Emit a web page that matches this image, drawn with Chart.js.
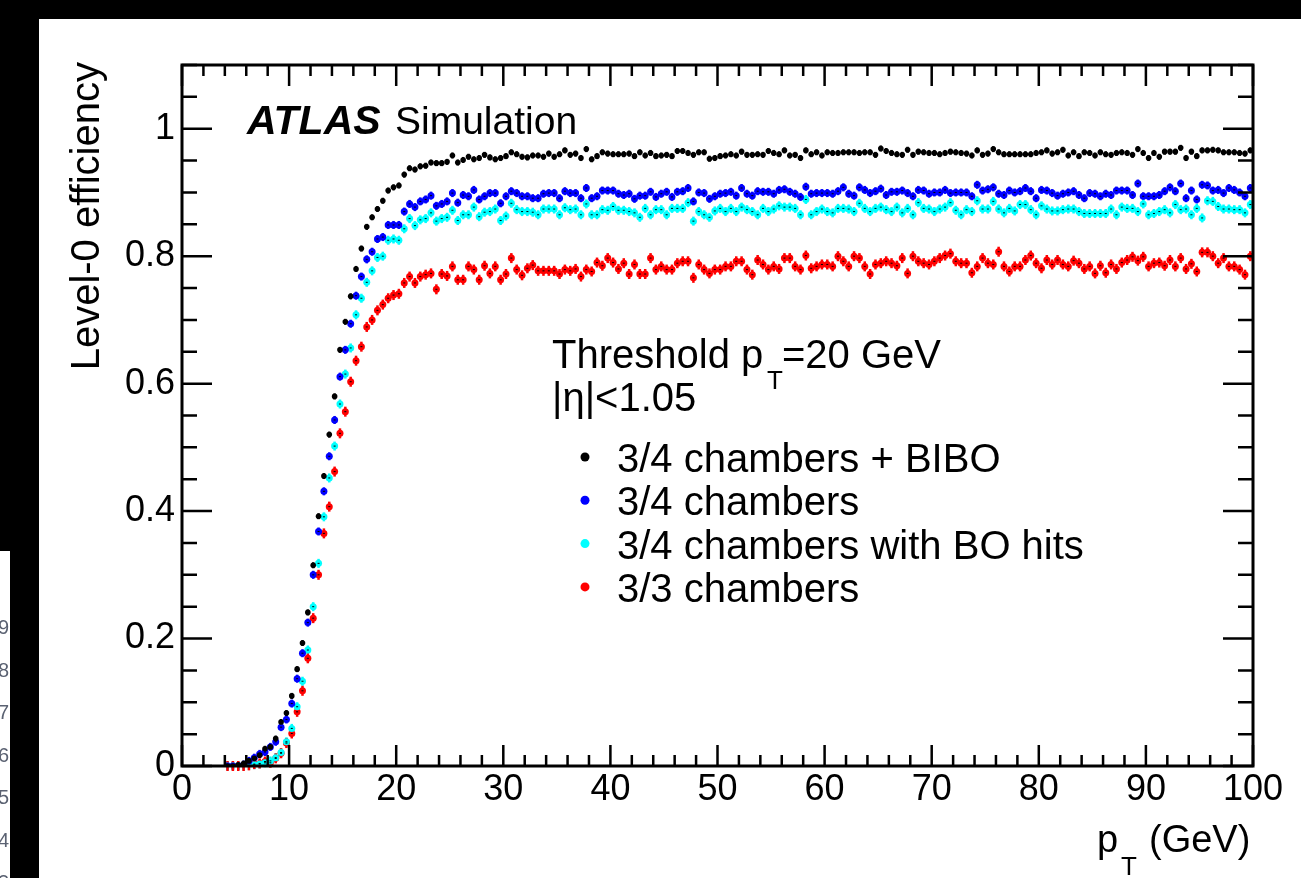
<!DOCTYPE html>
<html>
<head>
<meta charset="utf-8">
<title>Level-0 efficiency</title>
<script src="https://cdn.jsdelivr.net/npm/chart.js@4.4.1/dist/chart.umd.min.js"></script>
<style>
  html, body { margin: 0; padding: 0; background: #fff; overflow: hidden; }
  #wrap { position: relative; width: 1301px; height: 878px; }
  #chart { position: absolute; left: 0; top: 0; }
  .band { position: absolute; background: #000; }
  #digits { position: absolute; left: 0; top: 551px; width: 10px; height: 327px; overflow: hidden; }
  #digits span { position: absolute; right: 1px; font: 20px "Liberation Sans", Arial, sans-serif; color: #5b6272; line-height: 20px; }
</style>
</head>
<body>
<div id="wrap">
  <canvas id="chart" width="1301" height="878"></canvas>
  <div class="band" style="left:0;top:0;width:1301px;height:19px;"></div>
  <div class="band" style="left:0;top:0;width:39px;height:551px;"></div>
  <div class="band" style="left:10px;top:551px;width:29px;height:327px;"></div>
  <div id="digits"></div>
</div>
<script>
// bin centres in GeV (0.5 GeV bins)
const ptBins = [
  4.25, 4.75, 5.25, 5.75, 6.25, 6.75, 7.25, 7.75, 8.25, 8.75, 9.25, 9.75, 10.25, 10.75, 11.25, 11.75,
  12.25, 12.75, 13.25, 13.75, 14.25, 14.75, 15.25, 15.75, 16.25, 16.75, 17.25, 17.75, 18.25, 18.75, 19.25, 19.75,
  20.25, 20.75, 21.25, 21.75, 22.25, 22.75, 23.25, 23.75, 24.25, 24.75, 25.25, 25.75, 26.25, 26.75, 27.25, 27.75,
  28.25, 28.75, 29.25, 29.75, 30.25, 30.75, 31.25, 31.75, 32.25, 32.75, 33.25, 33.75, 34.25, 34.75, 35.25, 35.75,
  36.25, 36.75, 37.25, 37.75, 38.25, 38.75, 39.25, 39.75, 40.25, 40.75, 41.25, 41.75, 42.25, 42.75, 43.25, 43.75,
  44.25, 44.75, 45.25, 45.75, 46.25, 46.75, 47.25, 47.75, 48.25, 48.75, 49.25, 49.75, 50.25, 50.75, 51.25, 51.75,
  52.25, 52.75, 53.25, 53.75, 54.25, 54.75, 55.25, 55.75, 56.25, 56.75, 57.25, 57.75, 58.25, 58.75, 59.25, 59.75,
  60.25, 60.75, 61.25, 61.75, 62.25, 62.75, 63.25, 63.75, 64.25, 64.75, 65.25, 65.75, 66.25, 66.75, 67.25, 67.75,
  68.25, 68.75, 69.25, 69.75, 70.25, 70.75, 71.25, 71.75, 72.25, 72.75, 73.25, 73.75, 74.25, 74.75, 75.25, 75.75,
  76.25, 76.75, 77.25, 77.75, 78.25, 78.75, 79.25, 79.75, 80.25, 80.75, 81.25, 81.75, 82.25, 82.75, 83.25, 83.75,
  84.25, 84.75, 85.25, 85.75, 86.25, 86.75, 87.25, 87.75, 88.25, 88.75, 89.25, 89.75, 90.25, 90.75, 91.25, 91.75,
  92.25, 92.75, 93.25, 93.75, 94.25, 94.75, 95.25, 95.75, 96.25, 96.75, 97.25, 97.75, 98.25, 98.75, 99.25, 99.75
];

// 3/4 chambers + BIBO
const effBibo = [
  0, 0, 0.002, 0.004, 0.008, 0.012, 0.017, 0.027, 0.030, 0.043, 0.069, 0.083, 0.110, 0.152, 0.193, 0.241, 0.315,
  0.392, 0.455, 0.520, 0.580, 0.653, 0.697, 0.737, 0.780, 0.812, 0.846, 0.861, 0.874, 0.887, 0.903, 0.908, 0.911, 0.928, 0.938, 0.936, 0.941,
  0.942, 0.947, 0.946, 0.946, 0.948, 0.958, 0.947, 0.951, 0.956, 0.952, 0.954, 0.959, 0.955, 0.952, 0.954, 0.957, 0.963,
  0.960, 0.956, 0.955, 0.958, 0.958, 0.956, 0.961, 0.956, 0.960, 0.966, 0.959, 0.961, 0.954, 0.968, 0.952, 0.957,
  0.963, 0.961, 0.960, 0.960, 0.960, 0.961, 0.957, 0.963, 0.958, 0.962, 0.957, 0.958, 0.959, 0.957, 0.965, 0.965, 0.962,
  0.959, 0.963, 0.963, 0.953, 0.954, 0.957, 0.958, 0.960, 0.958, 0.964, 0.959, 0.959, 0.960, 0.959, 0.965, 0.962, 0.960,
  0.966, 0.958, 0.959, 0.954, 0.966, 0.960, 0.963, 0.958, 0.963, 0.962, 0.962, 0.963, 0.963, 0.963, 0.962, 0.963, 0.963,
  0.959, 0.969, 0.965, 0.962, 0.960, 0.959, 0.967, 0.959, 0.964, 0.963, 0.962, 0.962, 0.960, 0.962, 0.964,
  0.963, 0.962, 0.961, 0.958, 0.966, 0.959, 0.961, 0.968, 0.963, 0.960, 0.960, 0.960, 0.960, 0.960, 0.960, 0.962, 0.963,
  0.966, 0.961, 0.963, 0.967, 0.958, 0.963, 0.957, 0.963, 0.962, 0.958, 0.963, 0.960, 0.959, 0.962, 0.963, 0.962, 0.959,
  0.968, 0.962, 0.954, 0.962, 0.956, 0.964, 0.964, 0.964, 0.970, 0.954, 0.964, 0.957, 0.966, 0.966, 0.967, 0.966,
  0.963, 0.963, 0.963, 0.962, 0.961, 0.966
];

// 3/4 chambers
const effAll = [
  0, 0, 0, 0.002, 0.008, 0.013, 0.019, 0.022, 0.030, 0.038, 0.061, 0.073, 0.098, 0.137, 0.177, 0.225, 0.300,
  0.368, 0.431, 0.486, 0.543, 0.611, 0.653, 0.694, 0.738, 0.768, 0.795, 0.807, 0.827, 0.830, 0.849, 0.849, 0.849, 0.870, 0.882, 0.877, 0.886,
  0.889, 0.895, 0.879, 0.882, 0.886, 0.899, 0.884, 0.896, 0.894, 0.904, 0.889, 0.894, 0.899, 0.899, 0.883, 0.894, 0.902,
  0.899, 0.894, 0.894, 0.891, 0.891, 0.898, 0.899, 0.899, 0.891, 0.902, 0.899, 0.899, 0.891, 0.907, 0.891, 0.894,
  0.903, 0.903, 0.903, 0.898, 0.896, 0.898, 0.890, 0.895, 0.895, 0.901, 0.893, 0.898, 0.901, 0.893, 0.901, 0.902, 0.907,
  0.886, 0.900, 0.899, 0.890, 0.894, 0.898, 0.899, 0.901, 0.895, 0.907, 0.898, 0.895, 0.902, 0.901, 0.901, 0.898, 0.904,
  0.905, 0.901, 0.898, 0.893, 0.909, 0.898, 0.899, 0.899, 0.899, 0.898, 0.902, 0.908, 0.898, 0.895, 0.908, 0.904, 0.899,
  0.902, 0.906, 0.896, 0.901, 0.901, 0.903, 0.899, 0.894, 0.904, 0.903, 0.898, 0.900, 0.900, 0.904, 0.899,
  0.900, 0.900, 0.900, 0.894, 0.912, 0.903, 0.905, 0.908, 0.898, 0.896, 0.903, 0.900, 0.902, 0.907, 0.902, 0.891, 0.904,
  0.903, 0.899, 0.895, 0.898, 0.900, 0.902, 0.896, 0.891, 0.899, 0.898, 0.894, 0.898, 0.896, 0.903, 0.903, 0.903, 0.896,
  0.914, 0.894, 0.894, 0.894, 0.896, 0.902, 0.908, 0.902, 0.914, 0.891, 0.903, 0.889, 0.912, 0.911, 0.903, 0.904,
  0.899, 0.907, 0.904, 0.900, 0.894, 0.907
];

// 3/4 chambers with BO hits
const effBO = [
  0, 0, 0, 0, 0.001, 0.002, 0.003, 0.005, 0.008, 0.013, 0.021, 0.038, 0.059, 0.093, 0.133, 0.182, 0.250,
  0.318, 0.391, 0.452, 0.502, 0.568, 0.615, 0.656, 0.708, 0.734, 0.759, 0.777, 0.798, 0.800, 0.825, 0.827, 0.825, 0.843, 0.859, 0.848, 0.857,
  0.859, 0.868, 0.855, 0.859, 0.861, 0.872, 0.856, 0.865, 0.865, 0.877, 0.862, 0.869, 0.870, 0.874, 0.856, 0.863, 0.883,
  0.873, 0.870, 0.870, 0.869, 0.865, 0.874, 0.874, 0.874, 0.865, 0.876, 0.873, 0.874, 0.865, 0.882, 0.865, 0.865,
  0.873, 0.872, 0.878, 0.872, 0.872, 0.870, 0.868, 0.861, 0.875, 0.865, 0.873, 0.873, 0.865, 0.875, 0.875, 0.875, 0.884,
  0.855, 0.870, 0.865, 0.861, 0.871, 0.875, 0.870, 0.875, 0.870, 0.877, 0.873, 0.870, 0.865, 0.875, 0.870, 0.874, 0.879,
  0.877, 0.877, 0.875, 0.865, 0.889, 0.865, 0.870, 0.874, 0.870, 0.868, 0.875, 0.875, 0.874, 0.870, 0.883, 0.875, 0.870,
  0.875, 0.877, 0.873, 0.870, 0.877, 0.868, 0.875, 0.865, 0.884, 0.875, 0.874, 0.870, 0.874, 0.877, 0.884,
  0.872, 0.865, 0.873, 0.870, 0.887, 0.874, 0.874, 0.886, 0.874, 0.868, 0.875, 0.871, 0.881, 0.881, 0.873, 0.865, 0.879,
  0.874, 0.871, 0.871, 0.873, 0.874, 0.874, 0.870, 0.867, 0.867, 0.867, 0.867, 0.867, 0.874, 0.865, 0.877, 0.875, 0.875,
  0.870, 0.882, 0.865, 0.867, 0.870, 0.873, 0.868, 0.881, 0.873, 0.874, 0.865, 0.875, 0.860, 0.887, 0.886, 0.878,
  0.874, 0.874, 0.873, 0.873, 0.868, 0.881
];

// 3/3 chambers
const eff33 = [
  0, 0, 0, 0, 0.001, 0.003, 0.004, 0.007, 0.005, 0.012, 0.020, 0.036, 0.051, 0.085, 0.118, 0.169, 0.232,
  0.300, 0.365, 0.407, 0.462, 0.522, 0.556, 0.603, 0.636, 0.658, 0.689, 0.700, 0.715, 0.724, 0.734, 0.739, 0.741, 0.758, 0.768, 0.758, 0.768,
  0.771, 0.773, 0.748, 0.772, 0.769, 0.784, 0.763, 0.763, 0.784, 0.779, 0.763, 0.785, 0.773, 0.784, 0.763, 0.772, 0.797,
  0.779, 0.770, 0.781, 0.786, 0.777, 0.777, 0.777, 0.777, 0.772, 0.779, 0.777, 0.780, 0.768, 0.779, 0.776, 0.790,
  0.785, 0.797, 0.790, 0.780, 0.789, 0.772, 0.787, 0.772, 0.772, 0.797, 0.779, 0.784, 0.779, 0.779, 0.789, 0.792, 0.792,
  0.766, 0.787, 0.779, 0.773, 0.779, 0.779, 0.784, 0.784, 0.792, 0.792, 0.779, 0.771, 0.794, 0.787, 0.779, 0.784, 0.780,
  0.797, 0.797, 0.784, 0.779, 0.801, 0.781, 0.784, 0.787, 0.787, 0.784, 0.800, 0.792, 0.784, 0.800, 0.797, 0.784, 0.772,
  0.787, 0.789, 0.792, 0.789, 0.785, 0.797, 0.773, 0.800, 0.792, 0.789, 0.787, 0.792, 0.797, 0.801, 0.804,
  0.792, 0.789, 0.789, 0.774, 0.784, 0.797, 0.789, 0.787, 0.807, 0.784, 0.776, 0.784, 0.784, 0.794, 0.801, 0.789, 0.781,
  0.794, 0.787, 0.794, 0.787, 0.784, 0.793, 0.789, 0.780, 0.784, 0.773, 0.785, 0.774, 0.787, 0.780, 0.790, 0.794, 0.799,
  0.793, 0.799, 0.784, 0.789, 0.790, 0.785, 0.794, 0.784, 0.797, 0.780, 0.788, 0.776, 0.806, 0.806, 0.800, 0.789,
  0.797, 0.784, 0.784, 0.779, 0.771, 0.800
];

const seriesLabels = ['3/4 chambers + BIBO', '3/4 chambers', '3/4 chambers with BO hits', '3/3 chambers'];
const seriesColors = ['#000000', '#0000ff', '#00ffff', '#ff0000'];
const seriesValues = [effBibo, effAll, effBO, eff33];

const xTickValues = [0, 10, 20, 30, 40, 50, 60, 70, 80, 90, 100];
const yTickValues = [0, 0.2, 0.4, 0.6, 0.8, 1];
const yTickLabels = ['0', '0.2', '0.4', '0.6', '0.8', '1'];

// clipped numbers on the left border
const edgeDigits = ['9', '8', '7', '6', '5', '4', '3'];

const FONT = '"Liberation Sans", Arial, Helvetica, sans-serif';

const digitBox = document.getElementById('digits');
edgeDigits.forEach((d, i) => {
  const s = document.createElement('span');
  s.textContent = d;
  s.style.top = (66 + i * 42.5) + 'px';
  digitBox.appendChild(s);
});

// error bar half length in px, per series
const errHalf = [3, 4, 4.5, 5];

const errorBars = {
  id: 'errorBars',
  beforeDatasetsDraw(chart) {
    const ctx = chart.ctx;
    chart.data.datasets.forEach((ds, i) => {
      const meta = chart.getDatasetMeta(i);
      ctx.save();
      ctx.strokeStyle = ds.borderColor;
      ctx.lineWidth = 2.5;
      meta.data.forEach(pt => {
        ctx.beginPath();
        ctx.moveTo(pt.x, pt.y - errHalf[i]);
        ctx.lineTo(pt.x, pt.y + errHalf[i]);
        ctx.stroke();
      });
      ctx.restore();
    });
  },
  afterDatasetsDraw(chart) {
    // small dark centre mark on the coloured markers
    const ctx = chart.ctx;
    chart.data.datasets.forEach((ds, i) => {
      if (i === 0) return;
      const meta = chart.getDatasetMeta(i);
      ctx.fillStyle = '#000';
      meta.data.forEach(pt => ctx.fillRect(pt.x - 1, pt.y - 0.5, 2, 1));
    });
  }
};

// ROOT style frame with ticks on all four sides
const frameTicks = {
  id: 'frameTicks',
  afterDraw(chart) {
    const { ctx, chartArea: a, scales: { x, y } } = chart;
    ctx.save();
    ctx.strokeStyle = '#000';
    ctx.lineWidth = 2.5;
    ctx.beginPath();
    for (let v = 0; v <= 100; v += 2) {
      const px = x.getPixelForValue(v);
      const len = v % 10 === 0 ? 21 : 11;
      ctx.moveTo(px, a.bottom); ctx.lineTo(px, a.bottom - len);
      ctx.moveTo(px, a.top); ctx.lineTo(px, a.top + len);
    }
    for (let k = 0; k <= 22; k++) {
      const v = k * 0.05;
      const py = y.getPixelForValue(v);
      const len = k % 4 === 0 ? 30 : 15;
      ctx.moveTo(a.left, py); ctx.lineTo(a.left + len, py);
      ctx.moveTo(a.right, py); ctx.lineTo(a.right - len, py);
    }
    ctx.stroke();
    ctx.lineWidth = 3;
    ctx.strokeRect(a.left, a.top, a.right - a.left, a.bottom - a.top);
    ctx.restore();
  }
};

const labels = {
  id: 'labels',
  afterDraw(chart) {
    const ctx = chart.ctx;
    ctx.save();
    ctx.fillStyle = '#000';
    ctx.textBaseline = 'alphabetic';
    ctx.textAlign = 'left';

    ctx.font = 'italic bold 41px ' + FONT;
    ctx.fillText('ATLAS', 247, 134);
    ctx.font = '39px ' + FONT;
    ctx.fillText('Simulation', 395, 134);

    ctx.font = '40px ' + FONT;
    ctx.fillText('Threshold p', 552, 368);
    ctx.fillText('=20 GeV', 782, 368);
    ctx.fillText('|\u03b7|<1.05', 552, 411);
    ctx.font = '26px ' + FONT;
    ctx.fillText('T', 767, 389);

    // legend
    ctx.font = '40px ' + FONT;
    chart.data.datasets.forEach((ds, i) => {
      const base = 472 + i * 43.3;
      ctx.fillStyle = ds.backgroundColor;
      ctx.beginPath();
      ctx.arc(585, base - 15, 4.5, 0, Math.PI * 2);
      ctx.fill();
      ctx.fillStyle = '#000';
      ctx.fillText(ds.label, 617, base);
    });

    // axis titles
    ctx.font = '38px ' + FONT;
    ctx.fillText('p', 1097, 852);
    ctx.fillText('(GeV)', 1149, 852);
    ctx.font = '26px ' + FONT;
    ctx.fillText('T', 1121, 875);

    ctx.font = '40px ' + FONT;
    ctx.translate(99, 62);
    ctx.rotate(-Math.PI / 2);
    ctx.textAlign = 'right';
    ctx.fillText('Level-0 efficiency', 0, 0);
    ctx.restore();
  }
};

const datasets = seriesValues.map((vals, i) => ({
  label: seriesLabels[i],
  data: ptBins.map((pt, j) => ({ x: pt, y: vals[j] })),
  backgroundColor: seriesColors[i],
  borderColor: seriesColors[i],
  pointRadius: i === 0 ? 2.8 : 3.5,
  pointBorderWidth: 0,
  showLine: false
}));

const ctx = document.getElementById('chart').getContext('2d');
new Chart(ctx, {
  type: 'scatter',
  data: { datasets },
  options: {
    responsive: false,
    animation: false,
    devicePixelRatio: 1,
    layout: { padding: { left: 0, right: 48, top: 65, bottom: 0 } },
    plugins: { legend: { display: false }, tooltip: { enabled: false } },
    scales: {
      x: {
        type: 'linear',
        min: 0,
        max: 100,
        grid: { display: false, drawTicks: false },
        border: { display: false },
        afterBuildTicks: s => { s.ticks = xTickValues.map(v => ({ value: v })); },
        afterFit: s => { s.height = 112; },
        ticks: {
          autoSkip: false,
          maxRotation: 0,
          padding: 2,
          color: '#000',
          font: { family: FONT, size: 36 }
        }
      },
      y: {
        type: 'linear',
        min: 0,
        max: 1.1,
        grid: { display: false, drawTicks: false },
        border: { display: false },
        afterBuildTicks: s => { s.ticks = yTickValues.map(v => ({ value: v })); },
        afterFit: s => { s.width = 182; },
        ticks: {
          autoSkip: false,
          padding: 7,
          color: '#000',
          font: { family: FONT, size: 36 },
          callback: (v, idx) => yTickLabels[idx]
        }
      }
    }
  },
  plugins: [errorBars, frameTicks, labels]
});
</script>
</body>
</html>
